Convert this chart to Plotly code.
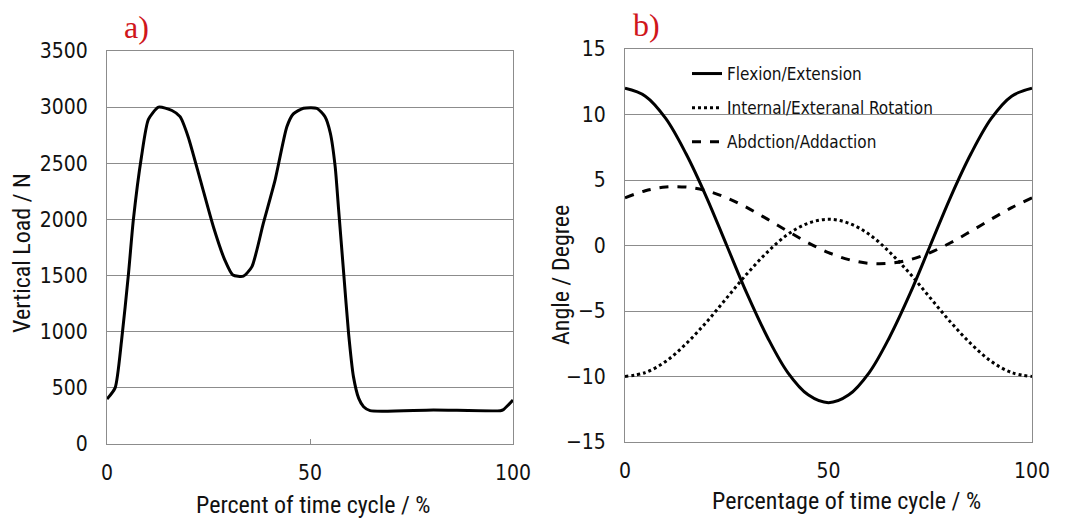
import plotly.graph_objects as go

# ---- Panel a) vertical load ----
load_x = [0, 2, 3.6, 5.3, 6.5, 8.5, 10.2, 12.7, 16, 18, 20, 23, 26.2, 29, 31, 33.6,
          35.7, 38.5, 41.4, 44.3, 45.9, 48.4, 51.7, 53.7, 55, 56.2, 57, 58.3, 59.5,
          60.7, 62, 63.2, 64.8, 80.4, 96.9, 97.7, 100]
load_y = [400, 500, 926, 1520, 2000, 2560, 2890, 3000, 2970, 2915, 2735, 2350, 1935,
          1640, 1505, 1495, 1580, 1965, 2350, 2825, 2940, 2990, 2990, 2915, 2770, 2470,
          2110, 1520, 985, 600, 406, 332, 297, 303, 297, 308, 392]

# ---- Panel b) angles ----
ang_x = [0, 5, 10, 15, 20, 25, 30, 35, 40, 45, 50, 55, 60, 65, 70, 75, 80, 85, 90, 95, 100]
flex = [12.0, 11.4, 9.7, 7.0, 3.7, 0.0, -3.7, -7.0, -9.7, -11.4, -12.0,
        -11.4, -9.7, -7.0, -3.7, 0.0, 3.7, 7.0, 9.7, 11.4, 12.0]
rot = [-10.0, -9.7, -8.85, -7.5, -5.85, -4.0, -2.15, -0.5, 0.85, 1.7, 2.0,
       1.7, 0.85, -0.5, -2.15, -4.0, -5.85, -7.5, -8.85, -9.7, -10.0]
abd = [3.64, 4.18, 4.46, 4.46, 4.18, 3.64, 2.89, 2.01, 1.09, 0.21, -0.54,
       -1.08, -1.36, -1.36, -1.08, -0.54, 0.21, 1.09, 2.01, 2.89, 3.64]

names = ["Flexion/Extension", "Internal/Exteranal Rotation", "Abdction/Addaction"]
dashes = ["solid", "dot", "dash"]

PAGE_OFF = 8            # default body margin of the html page
W, H = 1069 - PAGE_OFF, 518 - PAGE_OFF
FONT = "DejaVu Sans Condensed"
TFONT = "Roboto Condensed"
TXT = "#111"
GRID = "#8c8c8c"

fig = go.Figure()
fig.add_trace(go.Scatter(x=load_x, y=load_y, mode="lines",
                         line=dict(color="black", width=3, shape="spline", smoothing=0.6),
                         showlegend=False, xaxis="x", yaxis="y"))
for nm, ys, d in zip(names, [flex, rot, abd], dashes):
    fig.add_trace(go.Scatter(x=ang_x, y=ys, mode="lines", name=nm, legendgroup=nm,
                             line=dict(color="black", width=3, dash=d, shape="spline"),
                             xaxis="x2", yaxis="y2"))


def px_x(p):
    return (p - PAGE_OFF) / W


def px_y(p):
    return 1 - (p - PAGE_OFF) / H


axis_common = dict(showline=True, linecolor=GRID, linewidth=1, mirror=True, zeroline=False,
                   automargin=False, tickfont=dict(family=FONT, size=21, color=TXT))

title_font = dict(family=TFONT, size=24, color=TXT)

fig.update_layout(
    width=W, height=H, margin=dict(l=0, r=0, t=0, b=0),
    paper_bgcolor="white", plot_bgcolor="white",
    xaxis=dict(domain=[px_x(107), px_x(513)], range=[0, 100], tickvals=[0, 50, 100],
               ticks="inside", ticklen=5, tickcolor=GRID, showgrid=False, anchor="y",
               ticklabelstandoff=10, **axis_common),
    yaxis=dict(domain=[px_y(444), px_y(51)], range=[0, 3500], dtick=500, showgrid=True,
               gridcolor=GRID, gridwidth=1, anchor="x", ticklabelstandoff=14, **axis_common),
    xaxis2=dict(domain=[px_x(625), px_x(1032)], range=[0, 100], tickvals=[0, 50, 100],
                ticks="", showgrid=False, anchor="y2", ticklabelstandoff=10, **axis_common),
    yaxis2=dict(domain=[px_y(442), px_y(49)], range=[-15, 15], dtick=5, showgrid=True,
                gridcolor=GRID, gridwidth=1, anchor="x2", ticklabelstandoff=14, **axis_common),
    legend=dict(x=px_x(687), y=px_y(56), xanchor="left", yanchor="top",
                font=dict(family=FONT, size=17, color=TXT), bgcolor="rgba(0,0,0,0)",
                tracegroupgap=9, itemwidth=30),
    annotations=[
        dict(text="Percent of time cycle / %", x=px_x(313), y=px_y(505), xref="paper", yref="paper",
             xanchor="center", yanchor="middle", showarrow=False, font=title_font),
        dict(text="Vertical Load / N", x=px_x(22), y=px_y(253), xref="paper", yref="paper",
             xanchor="center", yanchor="middle", textangle=-90, showarrow=False, font=title_font),
        dict(text="Percentage of time cycle / %", x=px_x(846), y=px_y(501), xref="paper", yref="paper",
             xanchor="center", yanchor="middle", showarrow=False, font=title_font),
        dict(text="Angle / Degree", x=px_x(561), y=px_y(275), xref="paper", yref="paper",
             xanchor="center", yanchor="middle", textangle=-90, showarrow=False, font=title_font),
        dict(text="a)", x=px_x(122), y=px_y(27), xref="paper", yref="paper", xanchor="left", yanchor="middle",
             showarrow=False, font=dict(family="Liberation Serif", size=32, color="#d0161b")),
        dict(text="b)", x=px_x(631), y=px_y(25), xref="paper", yref="paper", xanchor="left", yanchor="middle",
             showarrow=False, font=dict(family="Liberation Serif", size=32, color="#d0161b")),
    ],
)

fig.write_html("out.html")
